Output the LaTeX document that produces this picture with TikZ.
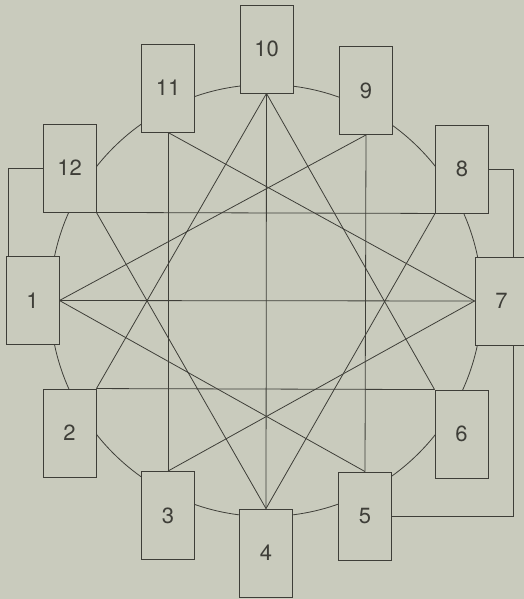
\documentclass[tikz,border=0pt]{standalone}
\usepackage{fontspec}
\setmainfont{TeX Gyre Heros}
\definecolor{bg}{RGB}{201,203,189}
\definecolor{ink}{RGB}{62,62,56}
\begin{document}
\begin{tikzpicture}[x=1pt,y=-1pt,
  box/.style={draw=ink,fill=bg,line width=0.9pt,minimum width=53pt,minimum height=88pt,inner sep=0pt,
    font=\fontsize{22}{24}\selectfont,text=ink},
  ln/.style={draw=ink,line width=0.8pt}]
\fill[bg] (0,0) rectangle (524,599);
\useasboundingbox (0,0) rectangle (524,599);
\draw[ln] (266,300.5) circle (216);
\node[box] (n10) at (266.5,49) {10};
\node[box] (n11) at (168,88) {11};
\node[box] (n9) at (366,90.5) {9};
\node[box] (n12) at (69.5,168) {12};
\node[box] (n8) at (462,169) {8};
\node[box] (n1) at (32.5,300.5) {1};
\node[box] (n7) at (501.5,301) {7};
\node[box] (n2) at (69.5,433) {2};
\node[box] (n6) at (461.5,434) {6};
\node[box] (n3) at (168,515.5) {3};
\node[box] (n4) at (266,553) {4};
\node[box] (n5) at (365,516) {5};
\coordinate (kl) at (8,0);
\coordinate (kr) at (513.5,0);
% chords
\draw[ln] (n1.east) -- (n7.west);
\draw[ln] (n1.east) -- (n9.south);
\draw[ln] (n1.east) -- (n5.north);
\draw[ln] (n7.west) -- (n11.south);
\draw[ln] (n7.west) -- (n3.north);
\draw[ln] (n10.south) -- (n4.north);
\draw[ln] (n10.south) -- (n2.north east);
\draw[ln] (n10.south) -- (n6.north west);
\draw[ln] (n4.north) -- (n12.south east);
\draw[ln] (n4.north) -- (n8.south west);
\draw[ln] (n11.south) -- (n3.north);
\draw[ln] (n9.south) -- (n5.north);
\draw[ln] (n12.south east) -- (n8.south west);
\draw[ln] (n2.north east) -- (n6.north west);
% outer connectors
\draw[ln] (n12.west) -| (kl |- n1.north);
\draw[ln] (n8.east) -| (kr |- n7.north);
\draw[ln] (kr |- n7.south) |- (n5.east);
\end{tikzpicture}
\end{document}
